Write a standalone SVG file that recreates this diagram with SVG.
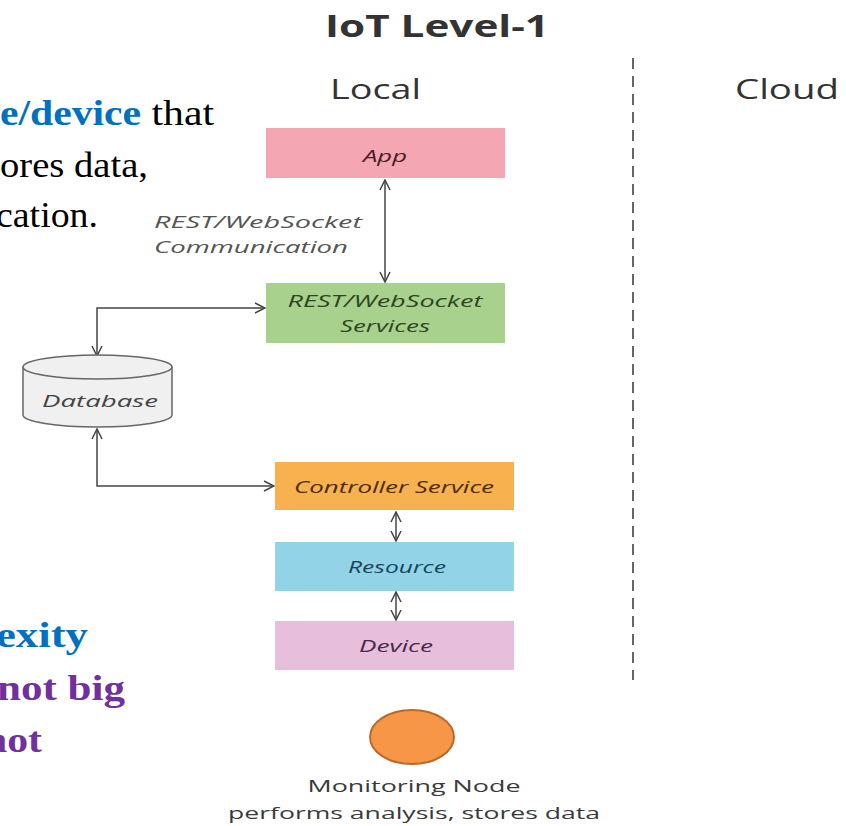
<svg xmlns="http://www.w3.org/2000/svg" width="846" height="826" viewBox="0 0 846 826">
<defs>
<style>
.slide{font-family:"Liberation Serif","Times New Roman",serif;font-size:36px}
.b{font-weight:bold}
.blue{fill:#0070c0}
.purple{fill:#7030a0}
.hdr{font-family:"Open Sans","Liberation Sans",sans-serif;fill:#333}
.lbl{font-family:"Open Sans","Liberation Sans",sans-serif;font-style:italic;font-size:17px;text-anchor:middle}
.cap{font-family:"Open Sans","Liberation Sans",sans-serif;font-size:17px;fill:#3a3a3a;text-anchor:middle}
.conn{fill:none;stroke:#444;stroke-width:1.5}
</style>
<marker id="ah" viewBox="0 0 12 12" refX="11" refY="6" markerWidth="12" markerHeight="12" markerUnits="userSpaceOnUse" orient="auto-start-reverse">
<path d="M1,1 L11,6 L1,11" fill="none" stroke="#444" stroke-width="1.5"/>
</marker>
</defs>
<rect width="846" height="826" fill="#ffffff"/>

<g id="slide-text">
<text class="slide" x="214" y="125" text-anchor="end" textLength="214" lengthAdjust="spacingAndGlyphs"><tspan class="b blue">e/device</tspan> that</text>
<text class="slide" x="148" y="177" text-anchor="end" textLength="148" lengthAdjust="spacingAndGlyphs">ores data,</text>
<text class="slide" x="98" y="227" text-anchor="end" textLength="102" lengthAdjust="spacingAndGlyphs">cation.</text>
<text class="slide b blue" x="88" y="647" text-anchor="end" textLength="92" lengthAdjust="spacingAndGlyphs">exity</text>
<text class="slide b purple" x="125" y="700" text-anchor="end" textLength="128" lengthAdjust="spacingAndGlyphs">not big</text>
<text class="slide b purple" x="42" y="752" text-anchor="end" textLength="58" lengthAdjust="spacingAndGlyphs">not</text>
</g>

<g id="headers">
<text class="hdr" x="437" y="37" font-size="30" font-weight="bold" text-anchor="middle" textLength="224" lengthAdjust="spacingAndGlyphs">IoT Level-1</text>
<text class="hdr" x="375.5" y="99" font-size="27" text-anchor="middle" textLength="91" lengthAdjust="spacingAndGlyphs">Local</text>
<text class="hdr" x="787" y="99" font-size="27" text-anchor="middle" textLength="104" lengthAdjust="spacingAndGlyphs">Cloud</text>
</g>

<g id="divider">
<line x1="633" y1="58" x2="633" y2="680" stroke="#666" stroke-width="2" stroke-dasharray="11,7"/>
</g>

<g id="connectors">
<line class="conn" x1="385" y1="180" x2="385" y2="282" marker-start="url(#ah)" marker-end="url(#ah)"/>
<path class="conn" d="M265,308 H97 V356" marker-start="url(#ah)" marker-end="url(#ah)"/>
<path class="conn" d="M97,429 V486 H274" marker-start="url(#ah)" marker-end="url(#ah)"/>
<line class="conn" x1="396" y1="512" x2="396" y2="541" marker-start="url(#ah)" marker-end="url(#ah)"/>
<line class="conn" x1="396" y1="592" x2="396" y2="620" marker-start="url(#ah)" marker-end="url(#ah)"/>
<text x="154" y="228" font-family="'Open Sans','Liberation Sans',sans-serif" font-style="italic" font-size="17" fill="#555" textLength="208" lengthAdjust="spacingAndGlyphs">REST/WebSocket</text>
<text x="154" y="253" font-family="'Open Sans','Liberation Sans',sans-serif" font-style="italic" font-size="17" fill="#555" textLength="194" lengthAdjust="spacingAndGlyphs">Communication</text>
</g>

<g id="app">
<rect x="266" y="128" width="239" height="50" fill="#f4a6b3"/>
<text class="lbl" x="385" y="162" fill="#4a1c24" textLength="44" lengthAdjust="spacingAndGlyphs">App</text>
</g>

<g id="services">
<rect x="266" y="283" width="239" height="60" fill="#a9d18e"/>
<text class="lbl" x="385" y="307" fill="#2d4620" textLength="195" lengthAdjust="spacingAndGlyphs">REST/WebSocket</text>
<text class="lbl" x="385" y="332" fill="#2d4620" textLength="90" lengthAdjust="spacingAndGlyphs">Services</text>
</g>

<g id="database">
<path d="M23,367 V415 A74.5,12 0 0 0 172,415 V367" fill="#f0f0f0" stroke="#666" stroke-width="1.5"/>
<ellipse cx="97.5" cy="367" rx="74.5" ry="12" fill="#f0f0f0" stroke="#666" stroke-width="1.5"/>
<text class="lbl" x="100" y="407" font-size="18" fill="#444" textLength="116" lengthAdjust="spacingAndGlyphs">Database</text>
</g>

<g id="controller">
<rect x="275" y="462" width="239" height="48" fill="#f8b14f"/>
<text class="lbl" x="394" y="493" fill="#4a2b05" textLength="200" lengthAdjust="spacingAndGlyphs">Controller Service</text>
</g>

<g id="resource">
<rect x="275" y="542" width="239" height="49" fill="#93d3e8"/>
<text class="lbl" x="397" y="573" fill="#16455a" textLength="98" lengthAdjust="spacingAndGlyphs">Resource</text>
</g>

<g id="device">
<rect x="275" y="621" width="239" height="49" fill="#e8bedd"/>
<text class="lbl" x="396" y="652" fill="#4a2848" textLength="74" lengthAdjust="spacingAndGlyphs">Device</text>
</g>

<g id="monitoring-node">
<ellipse cx="412" cy="737" rx="42" ry="27" fill="#f79646" stroke="#b86a2c" stroke-width="2"/>
<text class="cap" x="414" y="792" textLength="213" lengthAdjust="spacingAndGlyphs">Monitoring Node</text>
<text class="cap" x="414" y="819" textLength="372" lengthAdjust="spacingAndGlyphs">performs analysis, stores data</text>
</g>
</svg>
